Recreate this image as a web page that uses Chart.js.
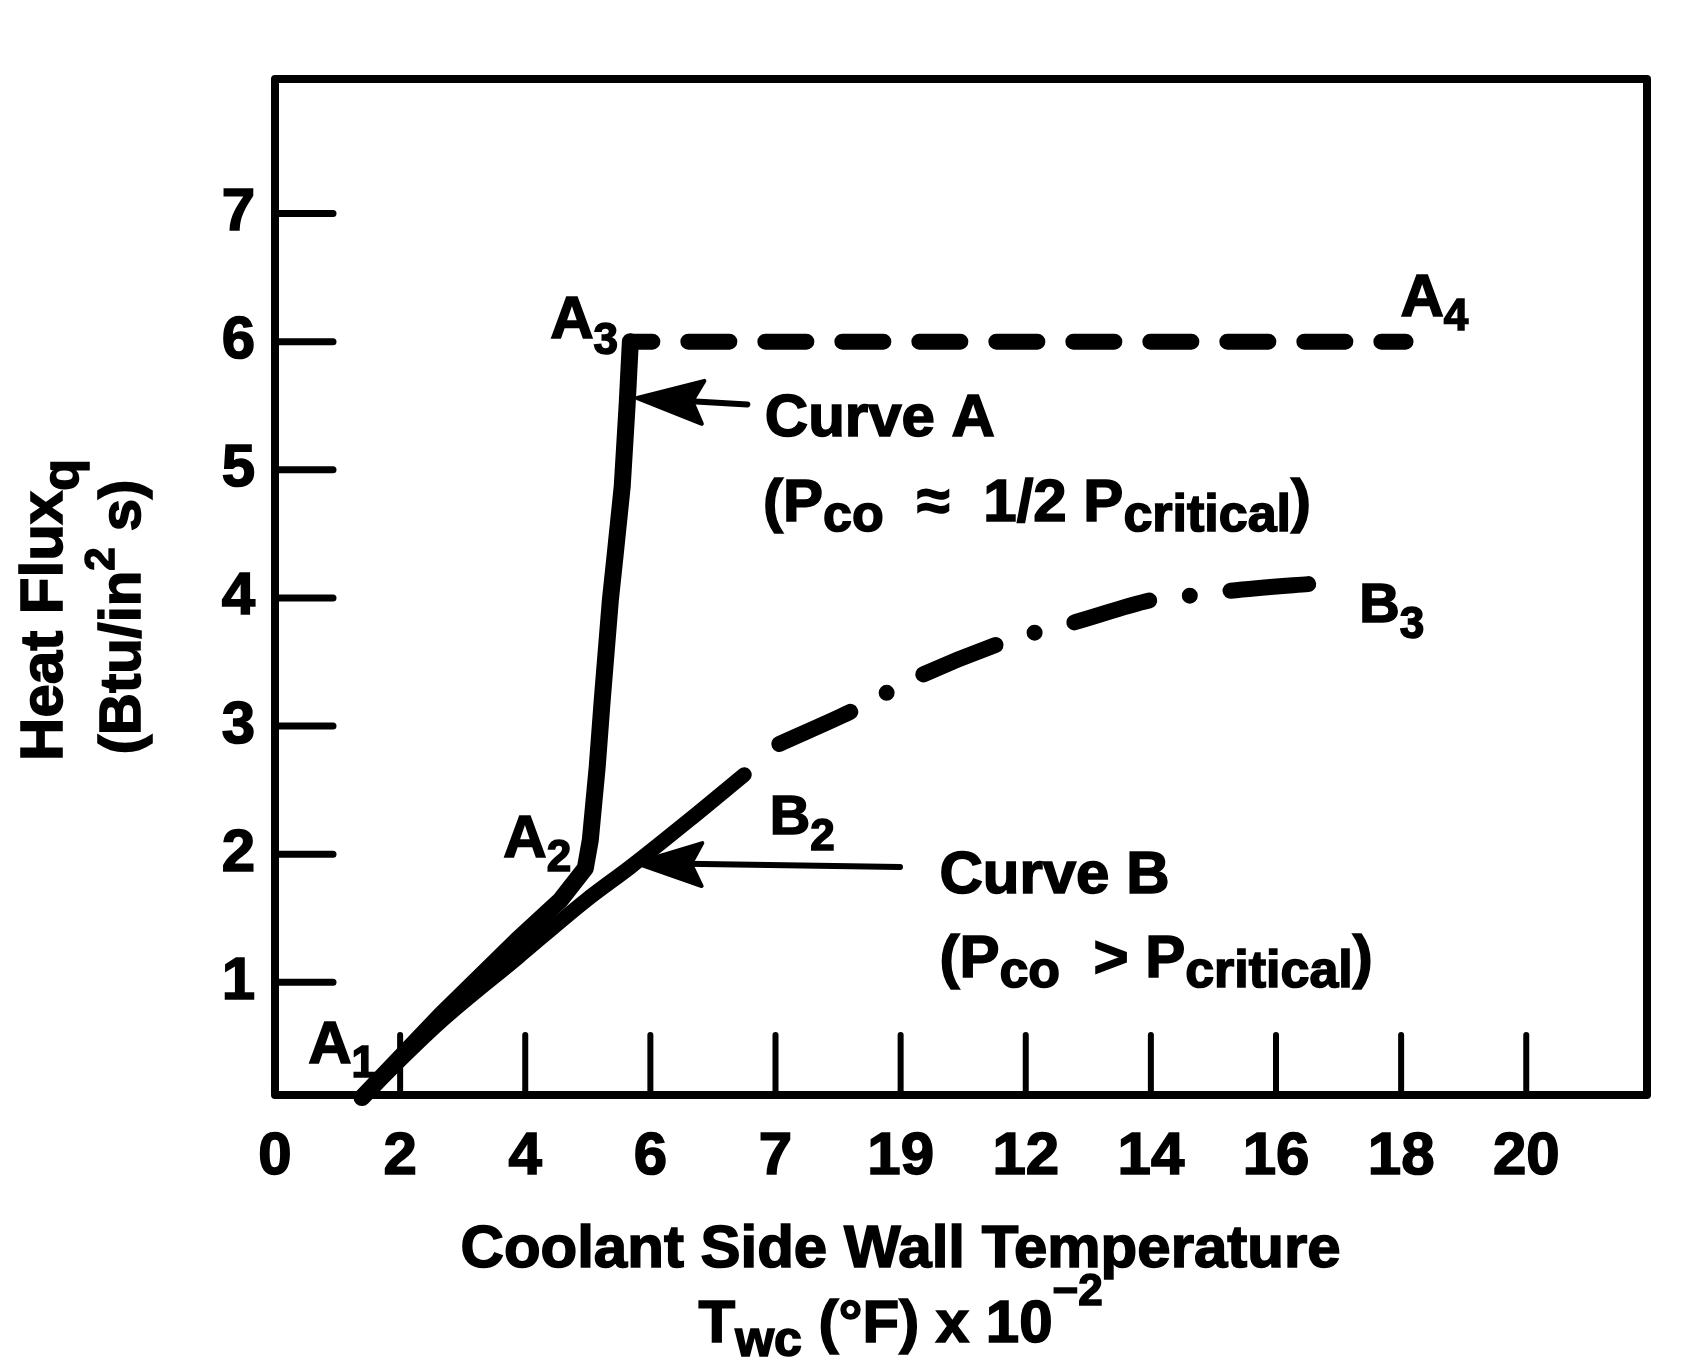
<!DOCTYPE html>
<html>
<head>
<meta charset="utf-8">
<script src="https://cdn.jsdelivr.net/npm/chart.js@4.4.1/dist/chart.umd.min.js"></script>
<style>
  html, body { margin: 0; padding: 0; background: #fff; }
  canvas { display: block; }
</style>
</head>
<body>
<canvas id="heatFlux" width="1703" height="1371"></canvas>
<script>
// x is kept in tick units; the print labels its ticks 0..20 with a stray "7" and "19"
const xTickValues = [0, 2, 4, 6, 8, 10, 12, 14, 16, 18, 20];
const xTickLabels = ['0', '2', '4', '6', '7', '19', '12', '14', '16', '18', '20'];
const yTickValues = [1, 2, 3, 4, 5, 6, 7];

// Curve A (Pco ~ 1/2 Pcritical): A1 -> A2 -> A3 solid, then A3 -> A4 dashed
const curveAX = [1.39, 2.64, 3.87, 4.56, 4.96, 5.04, 5.15, 5.23, 5.36, 5.44, 5.55, 5.63, 5.68];
const curveAY = [0.10, 0.74, 1.33, 1.64, 1.89, 2.11, 2.68, 3.20, 3.98, 4.35, 4.87, 5.52, 6.00];
const curveA34X = [5.68, 18.07];
const curveA34Y = [6.00, 6.00];

// Curve B (Pco > Pcritical): solid up to B2, then dash-dot to B3
const curveBX = [1.39, 2.64, 3.87, 4.97, 5.68, 6.63, 7.50];
const curveBY = [0.10, 0.69, 1.19, 1.64, 1.90, 2.27, 2.62];
const curveB23X = [8.06, 9.32, 9.78, 10.26, 11.62, 12.15, 12.71, 14.18, 14.69, 15.17, 16.82];
const curveB23Y = [2.86, 3.14, 3.26, 3.38, 3.65, 3.73, 3.80, 4.00, 4.02, 4.05, 4.12];

const toPoints = (xs, ys) => xs.map((x, i) => ({x: x, y: ys[i]}));

const FAMILY = '"Liberation Sans", Arial, Helvetica, sans-serif';
const font = size => 'bold ' + size + 'px ' + FAMILY;

// runs: [text, size, baseline shift]
function runsWidth(ctx, runs) {
    let w = 0;
    runs.forEach(r => { ctx.font = font(r[1]); w += ctx.measureText(r[0]).width; });
    return w;
}

function drawRuns(ctx, runs, x, y, align) {
    let cx = align === 'center' ? x - runsWidth(ctx, runs) / 2 : x;
    runs.forEach(r => {
        ctx.font = font(r[1]);
        ctx.strokeText(r[0], cx, y + r[2]);
        ctx.fillText(r[0], cx, y + r[2]);
        cx += ctx.measureText(r[0]).width;
    });
}

// labels placed in data units (left edge, baseline)
const notes = [
    {x: 7.83, y: 5.26, runs: [['Curve A', 60, 0]]},
    {x: 7.80, y: 4.60, runs: [['(P', 60, 0], ['co', 52, 10], ['  \u2248  1/2 P', 60, 0], ['critical', 52, 10], [')', 60, 0]]},
    {x: 10.62, y: 1.70, runs: [['Curve B', 60, 0]]},
    {x: 10.62, y: 1.04, runs: [['(P', 60, 0], ['co', 52, 10], ['  > P', 60, 0], ['critical', 52, 10], [')', 60, 0]]},
    {x: 0.53, y: 0.37, runs: [['A', 60, 0], ['1', 44, 14]]},
    {x: 3.65, y: 1.98, runs: [['A', 60, 0], ['2', 44, 14]]},
    {x: 4.40, y: 6.03, runs: [['A', 60, 0], ['3', 44, 16]]},
    {x: 17.99, y: 6.20, runs: [['A', 60, 0], ['4', 44, 14]]},
    {x: 7.91, y: 2.16, runs: [['B', 56, 0], ['2', 44, 16]]},
    {x: 17.33, y: 3.81, runs: [['B', 56, 0], ['3', 44, 16]]}
];

// pointer arrows, tip and tail in data units
const arrows = [
    {tip: [5.79, 5.56], tail: [7.55, 5.51]},
    {tip: [5.77, 1.93], tail: [9.99, 1.90]}
];

const figurePlugin = {
    id: 'figure',
    beforeDatasetsDraw(chart) {
        const {ctx, chartArea: a, scales: {x, y}} = chart;
        ctx.save();
        ctx.strokeStyle = '#000';
        ctx.lineWidth = 8;
        ctx.lineJoin = 'round';
        ctx.strokeRect(a.left, a.top, a.right - a.left, a.bottom - a.top);
        // inward tick marks
        ctx.lineCap = 'round';
        ctx.lineWidth = 6;
        xTickValues.slice(1).forEach(v => {
            const px = x.getPixelForValue(v);
            ctx.beginPath(); ctx.moveTo(px, a.bottom); ctx.lineTo(px, a.bottom - 60); ctx.stroke();
        });
        ctx.lineWidth = 7;
        yTickValues.forEach(v => {
            const py = y.getPixelForValue(v);
            ctx.beginPath(); ctx.moveTo(a.left, py); ctx.lineTo(a.left + 58, py); ctx.stroke();
        });
        ctx.restore();
    },
    afterDraw(chart) {
        const {ctx, chartArea: a, scales: {x, y}} = chart;
        ctx.save();
        ctx.fillStyle = '#000';
        ctx.strokeStyle = '#000';
        ctx.lineWidth = 1.6;
        ctx.textBaseline = 'alphabetic';
        ctx.textAlign = 'left';

        notes.forEach(n => drawRuns(ctx, n.runs, x.getPixelForValue(n.x), y.getPixelForValue(n.y), 'left'));

        // x axis title, two lines centred under the "19" tick
        const cx = x.getPixelForValue(10);
        drawRuns(ctx, [['Coolant Side Wall Temperature', 60, 0]], cx, a.bottom + 172, 'center');
        drawRuns(ctx, [['T', 60, 0], ['wc', 50, 14], [' (\u00b0F) x 10', 60, 0], ['\u22122', 44, -37]], cx, a.bottom + 247, 'center');

        // y axis title, rotated
        ctx.save();
        ctx.translate(62, 610);
        ctx.rotate(-Math.PI / 2);
        drawRuns(ctx, [['Heat Flux', 60, 0], ['q', 52, 16]], 0, 0, 'center');
        ctx.restore();
        ctx.save();
        ctx.translate(140, 617);
        ctx.rotate(-Math.PI / 2);
        drawRuns(ctx, [['(Btu/in', 58, 0], ['2', 42, -26], [' s)', 58, 0]], 0, 0, 'center');
        ctx.restore();

        // arrows pointing at the curves
        arrows.forEach(ar => {
            const tx = x.getPixelForValue(ar.tip[0]), ty = y.getPixelForValue(ar.tip[1]);
            const ex = x.getPixelForValue(ar.tail[0]), ey = y.getPixelForValue(ar.tail[1]);
            const ang = Math.atan2(ey - ty, ex - tx);
            ctx.save();
            ctx.translate(tx, ty);
            ctx.rotate(ang);
            const len = Math.hypot(ex - tx, ey - ty);
            ctx.lineWidth = 6;
            ctx.lineCap = 'round';
            ctx.beginPath(); ctx.moveTo(50, 0); ctx.lineTo(len, 0); ctx.stroke();
            ctx.lineJoin = 'round';
            ctx.lineWidth = 4;
            ctx.beginPath();
            ctx.moveTo(0, 0);
            ctx.lineTo(66, -21);
            ctx.lineTo(55, 0);
            ctx.lineTo(66, 22);
            ctx.closePath();
            ctx.fill();
            ctx.stroke();
            ctx.restore();
        });
        ctx.restore();
    }
};

const tickFont = {family: FAMILY, size: 60, weight: 'bold'};

new Chart(document.getElementById('heatFlux'), {
    type: 'line',
    data: {
        datasets: [
            {
                label: 'Curve A',
                data: toPoints(curveAX, curveAY),
                borderColor: '#000', borderWidth: 17, tension: 0,
                borderCapStyle: 'round', borderJoinStyle: 'round', pointRadius: 0
            },
            {
                label: 'Curve A (A3-A4)',
                data: toPoints(curveA34X, curveA34Y),
                borderColor: '#000', borderWidth: 16, tension: 0,
                borderDash: [41, 36], borderDashOffset: 19,
                borderCapStyle: 'round', pointRadius: 0
            },
            {
                label: 'Curve B',
                data: toPoints(curveBX, curveBY),
                borderColor: '#000', borderWidth: 15, cubicInterpolationMode: 'monotone',
                borderCapStyle: 'round', borderJoinStyle: 'round', pointRadius: 0
            },
            {
                label: 'Curve B (B2-B3)',
                data: toPoints(curveB23X, curveB23Y),
                borderColor: '#000', borderWidth: 16, cubicInterpolationMode: 'monotone',
                borderDash: [78, 41, 0, 41],
                borderCapStyle: 'round', borderJoinStyle: 'round', pointRadius: 0
            }
        ]
    },
    options: {
        responsive: false,
        animation: false,
        devicePixelRatio: 1,
        clip: false,
        layout: {padding: {left: 0, top: 79, right: 56, bottom: 0}},
        plugins: {
            legend: {display: false},
            tooltip: {enabled: false}
        },
        scales: {
            x: {
                type: 'linear',
                min: 0,
                max: 21.93,
                afterBuildTicks: s => { s.ticks = xTickValues.map(v => ({value: v})); },
                afterFit: s => { s.height = 276; },
                grid: {display: false, drawTicks: false},
                border: {display: false},
                ticks: {
                    autoSkip: false, maxRotation: 0, padding: 26,
                    color: '#000', font: tickFont,
                    textStrokeColor: '#000', textStrokeWidth: 1.6,
                    callback: (v, i) => xTickLabels[i]
                }
            },
            y: {
                type: 'linear',
                min: 0.12,
                max: 8.05,
                afterBuildTicks: s => { s.ticks = yTickValues.map(v => ({value: v})); },
                afterFit: s => { s.width = 275; },
                grid: {display: false, drawTicks: false},
                border: {display: false},
                ticks: {
                    padding: 20,
                    color: '#000', font: tickFont,
                    textStrokeColor: '#000', textStrokeWidth: 1.6
                }
            }
        }
    },
    plugins: [figurePlugin]
});
</script>
</body>
</html>
